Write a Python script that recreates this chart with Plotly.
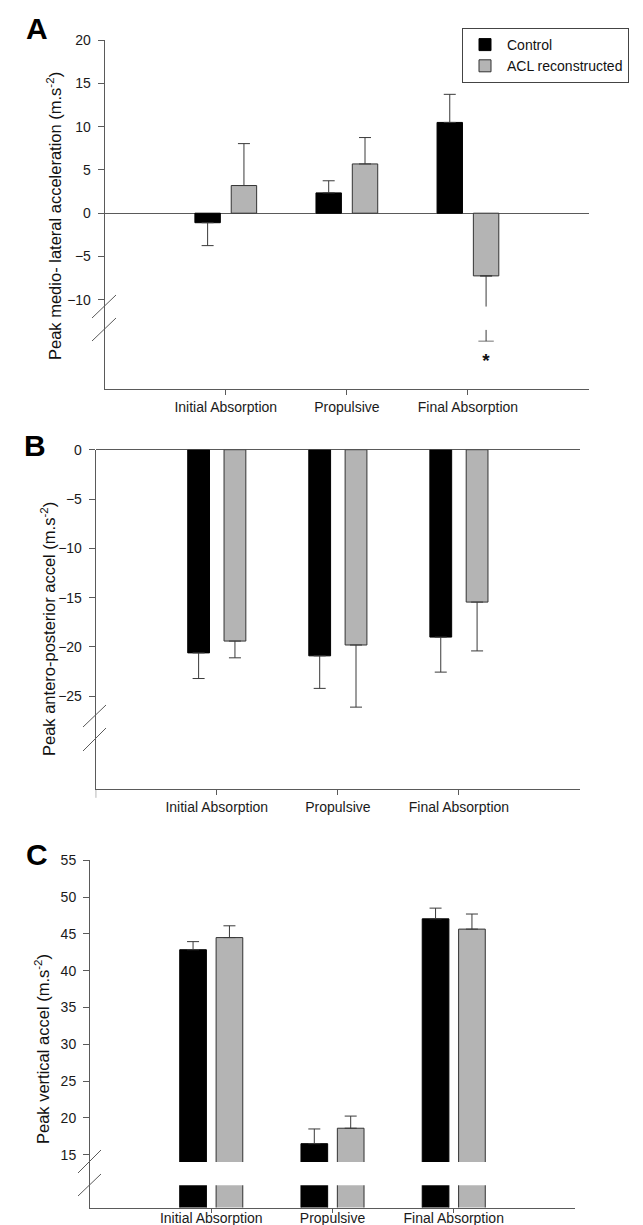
import plotly.graph_objects as go

# ---------------- data ----------------
categories = ["Initial Absorption", "Propulsive", "Final Absorption"]
series_names = ["Control", "ACL reconstructed"]

# Panel A: peak medio-lateral acceleration (m.s-2)
a_control = [-1.1, 2.35, 10.5]
a_control_sd = [2.65, 1.4, 3.25]
a_acl = [3.2, 5.7, -7.25]
a_acl_sd = [4.85, 3.05, 3.55]
# SD of ACL final absorption continues below the axis break
a_acl_break_top = -13.5
a_acl_break_end = -14.8
a_star_y = -17.2
a_ticks = [-10, -5, 0, 5, 10, 15, 20]

# Panel B: peak antero-posterior acceleration (m.s-2)
b_control = [-20.6, -20.9, -19.0]
b_control_sd = [2.6, 3.3, 3.55]
b_acl = [-19.4, -19.8, -15.45]
b_acl_sd = [1.7, 6.3, 4.95]
b_ticks = [-25, -20, -15, -10, -5, 0]

# Panel C: peak vertical acceleration (m.s-2)
c_control = [42.85, 16.5, 47.05]
c_control_sd = [1.1, 2.0, 1.45]
c_acl = [44.5, 18.6, 45.65]
c_acl_sd = [1.6, 1.65, 2.05]
c_ticks = [15, 20, 25, 30, 35, 40, 45, 50, 55]

# ---------------- style ----------------
W, H = 643, 1225
FONT = "Liberation Sans, Arial, sans-serif"
AXC = "#5a5a5a"
ERRC = "#3a3a3a"
BLACK = "#000000"
GREY = "#b4b4b4"
OFF = 0.15


def px(x):
    return x / W


def py(y):
    return 1 - y / H


pos = [i + 1 for i in range(len(categories))]
FINAL = categories.index("Final Absorption")


def split_err(vals, sds):
    plus = [s if v >= 0 else 0 for v, s in zip(vals, sds)]
    minus = [s if v < 0 else 0 for v, s in zip(vals, sds)]
    return plus, minus


fig = go.Figure()


def add_bars(vals, sds, name, color, linecolor, xa, ya, width, side, showlegend, skip=None):
    plus, minus = split_err(vals, sds)
    if skip is not None:
        plus[skip] = 0
        minus[skip] = 0
    fig.add_trace(go.Bar(
        x=[p + side * OFF for p in pos], y=vals, width=width,
        name=name, legendgroup=name, showlegend=showlegend,
        marker=dict(color=color, line=dict(color=linecolor, width=1)),
        error_y=dict(type="data", symmetric=False, array=plus, arrayminus=minus,
                     color=ERRC, thickness=1, width=6),
        xaxis=xa, yaxis=ya))


# Panel A
add_bars(a_control, a_control_sd, series_names[0], BLACK, BLACK, "x", "y", 0.21, -1, True)
add_bars(a_acl, a_acl_sd, series_names[1], GREY, "#333333", "x", "y", 0.21, 1, True, skip=FINAL)
xf = pos[FINAL] + OFF
fig.add_trace(go.Scatter(
    x=[xf], y=[a_acl[FINAL]], mode="markers", marker=dict(size=1, opacity=0),
    error_y=dict(type="data", symmetric=False, array=[0], arrayminus=[a_acl_sd[FINAL]],
                 color=ERRC, thickness=1, width=0),
    showlegend=False, hoverinfo="skip", xaxis="x", yaxis="y"))
fig.add_trace(go.Scatter(
    x=[xf, xf], y=[a_acl_break_top, a_acl_break_end], mode="lines+markers",
    line=dict(color=ERRC, width=1),
    marker=dict(symbol="line-ew", size=[0, 11], color=ERRC, line=dict(color=ERRC, width=1)),
    showlegend=False, hoverinfo="skip", xaxis="x", yaxis="y"))
fig.add_trace(go.Scatter(
    x=[xf], y=[a_star_y], mode="text", text=["<b>*</b>"],
    textfont=dict(family=FONT, size=19, color="#111111"),
    showlegend=False, hoverinfo="skip", xaxis="x", yaxis="y"))

# Panel B
add_bars(b_control, b_control_sd, series_names[0], BLACK, BLACK, "x2", "y2", 0.18, -1, False)
add_bars(b_acl, b_acl_sd, series_names[1], GREY, "#333333", "x2", "y2", 0.18, 1, False)

# Panel C
add_bars(c_control, c_control_sd, series_names[0], BLACK, BLACK, "x3", "y3", 0.22, -1, False)
add_bars(c_acl, c_acl_sd, series_names[1], GREY, "#333333", "x3", "y3", 0.22, 1, False)

tickfont = dict(family=FONT, size=14, color="#1a1a1a")


def xaxis_cfg(left, right, anchor, standoff=0, ticklen=5):
    return dict(domain=[px(left), px(right)], range=[0, 4], anchor=anchor,
                tickmode="array", tickvals=pos, ticktext=categories, ticks="outside",
                ticklen=ticklen, tickcolor=AXC, showline=True, linecolor=AXC, linewidth=1,
                showgrid=False, zeroline=False, tickfont=tickfont,
                ticklabelstandoff=standoff, automargin=False, fixedrange=True)


def yaxis_cfg(top, bottom, rng, ticks, anchor, zeroline=True):
    return dict(domain=[py(bottom), py(top)], range=rng, anchor=anchor,
                tickmode="array", tickvals=ticks, ticks="outside", ticklen=6,
                tickcolor=AXC, showline=True, linecolor=AXC, linewidth=1,
                showgrid=False, zeroline=zeroline, zerolinecolor=AXC, zerolinewidth=1,
                tickfont=tickfont, ticklabelstandoff=4, automargin=False, fixedrange=True)


fig.update_layout(
    width=W, height=H, margin=dict(l=0, r=0, t=0, b=0),
    paper_bgcolor="white", plot_bgcolor="white",
    font=dict(family=FONT, size=14, color="#111111"),
    barmode="overlay",
    xaxis=xaxis_cfg(96.7, 581, "y"),
    yaxis=yaxis_cfg(32.3, 380.7, [-20.3, 20], a_ticks, "x"),
    xaxis2=xaxis_cfg(87.7, 572, "y2"),
    yaxis2=yaxis_cfg(441.7, 781, [-34.4, 0], b_ticks, "x2"),
    xaxis3=xaxis_cfg(82, 567, "y3", standoff=-6, ticklen=4),
    yaxis3=yaxis_cfg(852.3, 1199.5, [7.83, 55], c_ticks, "x3", zeroline=False),
    legend=dict(x=px(454), y=py(20), xanchor="left", yanchor="top",
                bordercolor="#444444", borderwidth=1, bgcolor="white",
                font=dict(family=FONT, size=14, color="#111111"),
                itemwidth=34, tracegroupgap=0),
    showlegend=True,
)

shapes = []
# axis-break slashes (pixel positions)
for (x0, y0, x1, y1) in [(84, 310, 108, 287), (84, 333, 108, 310),
                         (75, 719, 98, 697), (75, 743, 98, 720),
                         (70, 1165, 93, 1142), (70, 1188, 93, 1166)]:
    shapes.append(dict(type="line", xref="paper", yref="paper",
                       x0=px(x0), y0=py(y0), x1=px(x1), y1=py(y1),
                       line=dict(color=AXC, width=1)))
# small tick at the left end of panel B's x axis
shapes.append(dict(type="line", xref="x2", yref="y2 domain", x0=0, x1=0, y0=0, y1=-0.026,
                   line=dict(color=AXC, width=1)))
# break gap through the bars of panel C
shapes.append(dict(type="rect", xref="x3", yref="y3", x0=0.5, x1=3.5, y0=10.84, y1=14.0,
                   fillcolor="white", line=dict(width=0), layer="above"))
fig.update_layout(shapes=shapes)

ann = []
for letter, (x, y) in zip(["A", "B", "C"], [(29, 21), (27, 437), (29, 846)]):
    ann.append(dict(text="<b>%s</b>" % letter, xref="paper", yref="paper",
                    x=px(x), y=py(y), xanchor="center", yanchor="middle", showarrow=False,
                    font=dict(family=FONT, size=30, color="#000000")))
titles = ["Peak medio- lateral acceleration (m.s<sup>-2</sup>)",
          "Peak antero-posterior accel (m.s<sup>-2</sup>)",
          "Peak vertical accel (m.s<sup>-2</sup>)"]
for t, (x, y) in zip(titles, [(46, 208), (40, 621), (34, 1041)]):
    ann.append(dict(text=t, xref="paper", yref="paper", x=px(x), y=py(y),
                    xanchor="center", yanchor="middle", showarrow=False, textangle=-90,
                    font=dict(family=FONT, size=16.5, color="#111111")))
fig.update_layout(annotations=ann)

fig.write_html("out.html")
